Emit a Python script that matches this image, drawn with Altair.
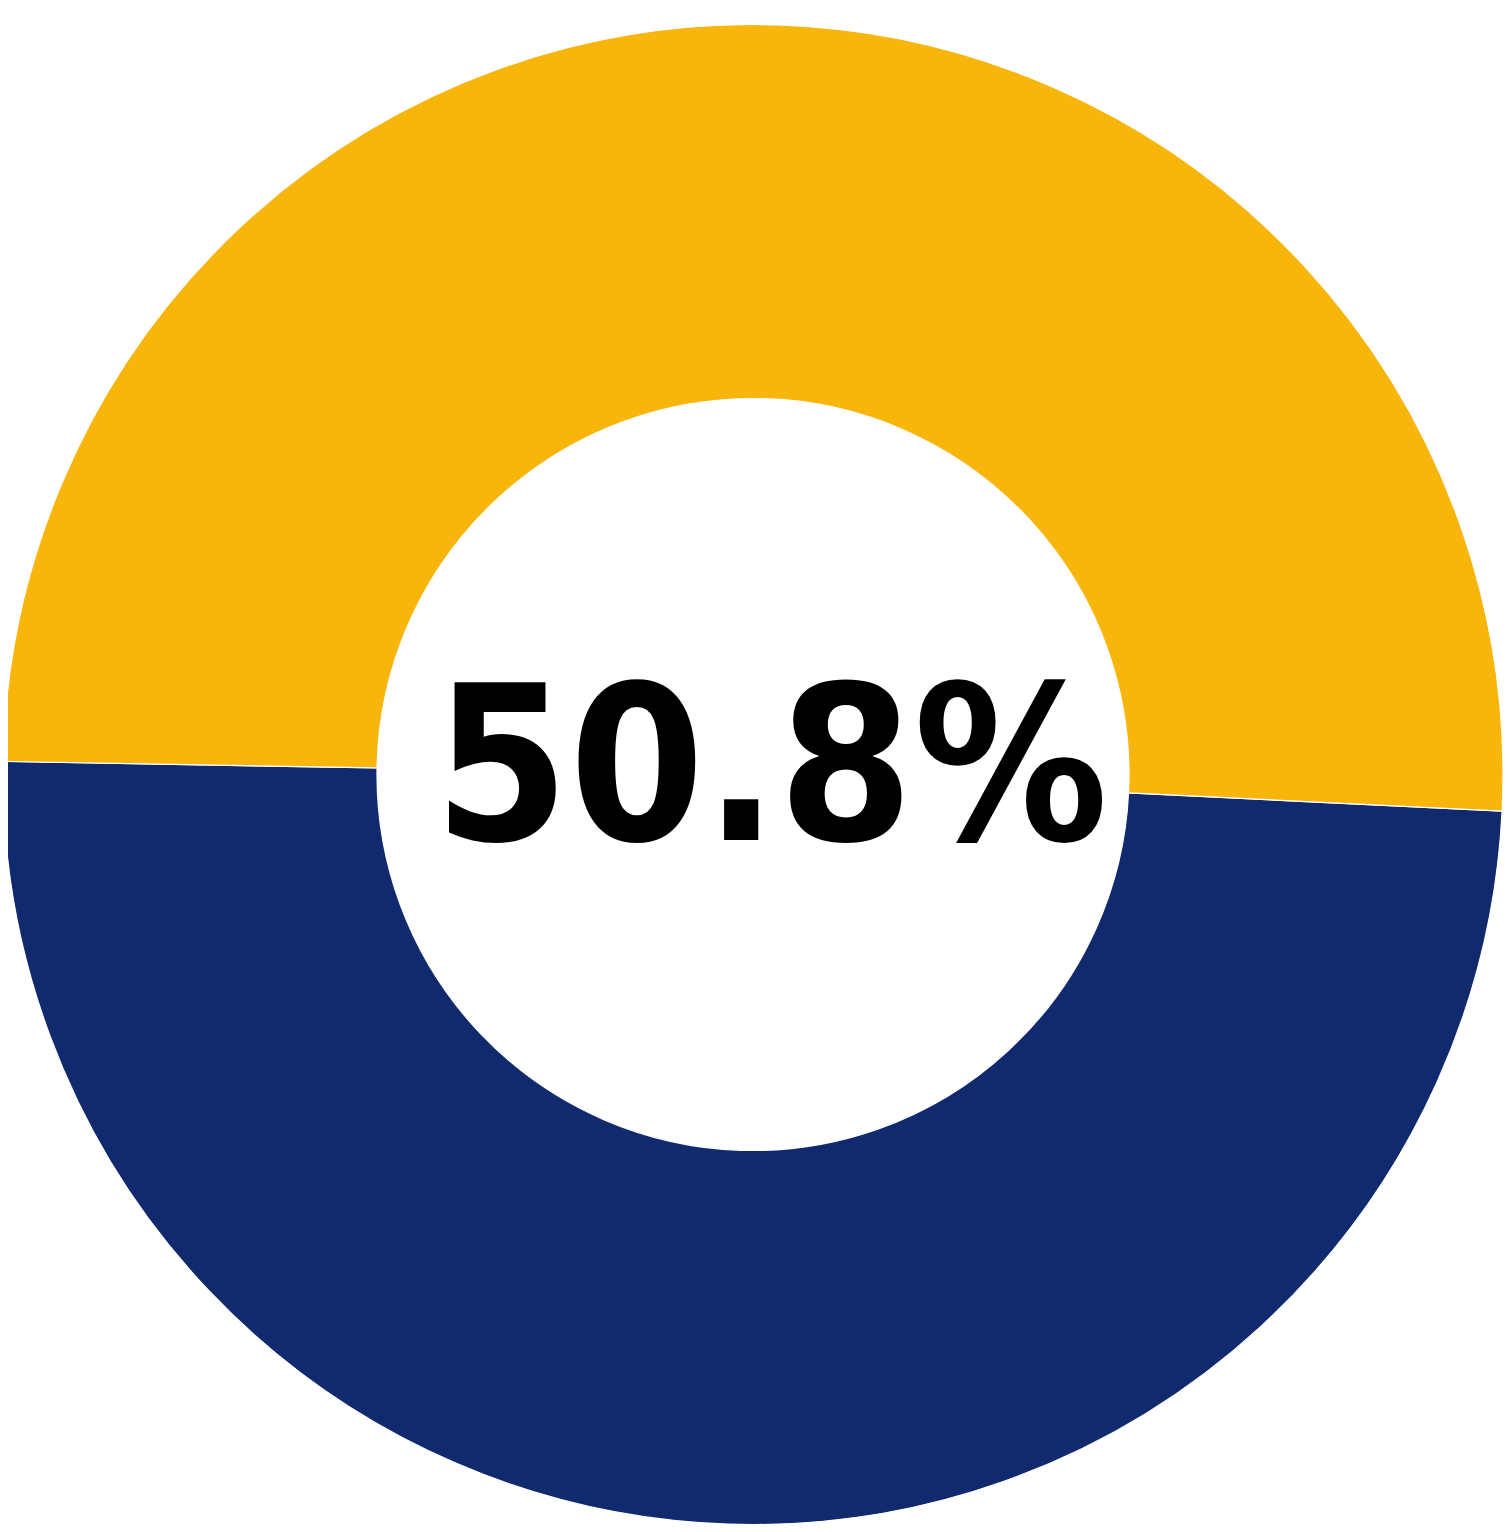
import altair as alt
import pandas as pd
import math

categories = ["Other", "Share"]
values = [49.5, 50.5]
colors = ["#112A6E", "#F8B60D"]
label = "50.8%"

df = pd.DataFrame({"category": categories, "value": values, "order": [0, 1]})

start = math.radians(92.8)

arcs = alt.Chart(df).mark_arc(
    radius=750, radius2=376, x=745, y=766.5, stroke="white", strokeWidth=1.2
).encode(
    theta=alt.Theta("value:Q", stack=True, scale=alt.Scale(range=[start, start + 2 * math.pi])),
    color=alt.Color("category:N", scale=alt.Scale(domain=categories, range=colors), legend=None),
    order=alt.Order("order:Q"),
)

text = alt.Chart(pd.DataFrame({"t": [label]})).mark_text(
    font="DejaVu Sans Condensed, Open Sans",
    fontWeight="bold",
    fontSize=216,
    color="black",
    align="center",
    baseline="alphabetic",
).encode(
    text="t:N",
    x=alt.value(763),
    y=alt.value(832),
)

chart = alt.layer(arcs, text).properties(
    width=1495, height=1516, padding=0,
    autosize=alt.AutoSizeParams(type="none"),
).configure_view(stroke=None)

chart.save("out.html", embed_options={"renderer": "svg", "actions": False})
